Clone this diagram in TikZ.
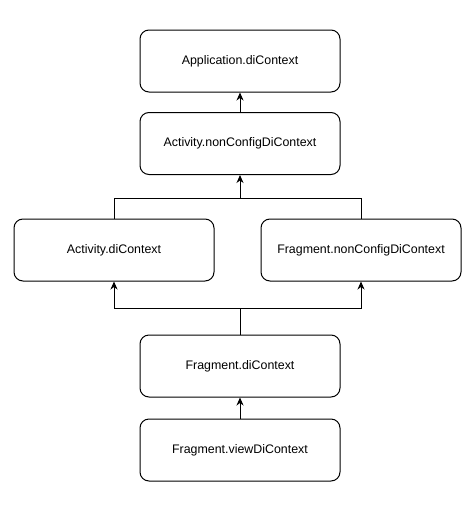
\documentclass[tikz,border=0pt]{standalone}
\usepackage{fontspec}
\setmainfont{Liberation Sans}
\usetikzlibrary{arrows.meta}
\begin{document}
\begin{tikzpicture}[x=1pt,y=-1pt,
  box/.style={draw=black,line width=1pt,rounded corners=9pt,minimum width=200pt,minimum height=62pt,inner sep=0pt,font=\fontsize{12.4}{14}\selectfont},
  conn/.style={draw=black,line width=1pt,-{Stealth[length=8pt,width=7pt,inset=2.5pt]}}]
\useasboundingbox (0,0) rectangle (474,509);
\node[box] (app) at (240,61) {Application.diContext};
\node[box] (actnc) at (240,143.5) {Activity.nonConfigDiContext};
\node[box] (actdi) at (114,250) {Activity.diContext};
\node[box] (fragnc) at (361,250) {Fragment.nonConfigDiContext};
\node[box] (fragdi) at (240,366) {Fragment.diContext};
\node[box] (fragview) at (240,450) {Fragment.viewDiContext};
\draw[conn] (actnc.north) -- (app.south);
\draw[conn] (actdi.north) |- (240,198) -- (actnc.south);
\draw[line width=1pt] (fragnc.north) |- (240,198);
\draw[conn] (fragdi.north) |- (114,308) -- (actdi.south);
\draw[conn] (fragdi.north) |- (361,308) -- (fragnc.south);
\draw[conn] (fragview.north) -- (fragdi.south);
\end{tikzpicture}
\end{document}
